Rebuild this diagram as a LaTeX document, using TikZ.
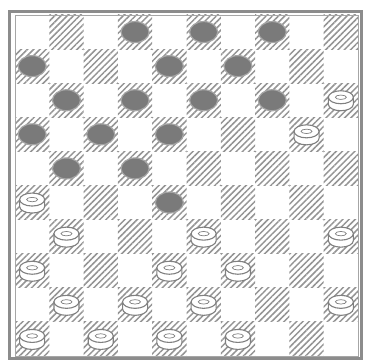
\documentclass[tikz,border=0pt]{standalone}
\usepackage{tikz}
\usetikzlibrary{patterns.meta}

\begin{document}
\begin{tikzpicture}[
    x=1pt,
    y=-1pt,
    darksq/.style={pattern={Lines[angle=45, distance=4.4pt, line width=1.5pt]}, pattern color=black!42},
    blackman/.style={fill=black!52, draw=black!35, line width=1.2pt},
    whiteman/.style={fill=white, draw=black!50, line width=1.1pt},
    ring/.style={draw=black!50, line width=0.7pt},
    frame/.style={draw=black!45, line width=3pt}
]
\useasboundingbox (0,0) rectangle (367,363);
\draw[frame] (9.5,11.5) rectangle (361.5,359);
\begin{scope}[shift={(15,15)}, x=34.3pt, y=-34.1pt]
  % dark squares
  \foreach \r in {1,...,10}
    \foreach \k in {1,...,5}
    {
      \pgfmathtruncatemacro\c{2*\k-1+mod(\r,2)}
      \fill[darksq] (\c-1,\r-1) rectangle (\c,\r);
    }
  \draw[black!35, line width=0.6pt] (0,0) rectangle (10,10);
  % black men
  \foreach \c/\r in {4/1,6/1,8/1,1/2,5/2,7/2,2/3,4/3,6/3,8/3,1/4,3/4,5/4,2/5,4/5,5/6}
    \draw[blackman] (\c-0.5,\r-0.5) ellipse [x radius=14pt, y radius=10.5pt];
  % white men
  \foreach \c/\r in {10/3,9/4,1/6,2/7,6/7,10/7,1/8,5/8,7/8,2/9,4/9,6/9,10/9,1/10,3/10,5/10,7/10}
  {
    \begin{scope}[shift={(\c-0.5,\r-0.5)}, x=1pt, y=-1pt]
      \draw[whiteman] (-12.5,-3) -- (-12.5,4) arc[start angle=180, end angle=0, x radius=12.5, y radius=6.5] -- (12.5,-3) -- cycle;
      \draw[whiteman] (0,-3) ellipse [x radius=12.5, y radius=6.5];
      \draw[ring] (0,-3) ellipse [x radius=5.5, y radius=2.2];
    \end{scope}
  }
\end{scope}
\end{tikzpicture}
\end{document}
